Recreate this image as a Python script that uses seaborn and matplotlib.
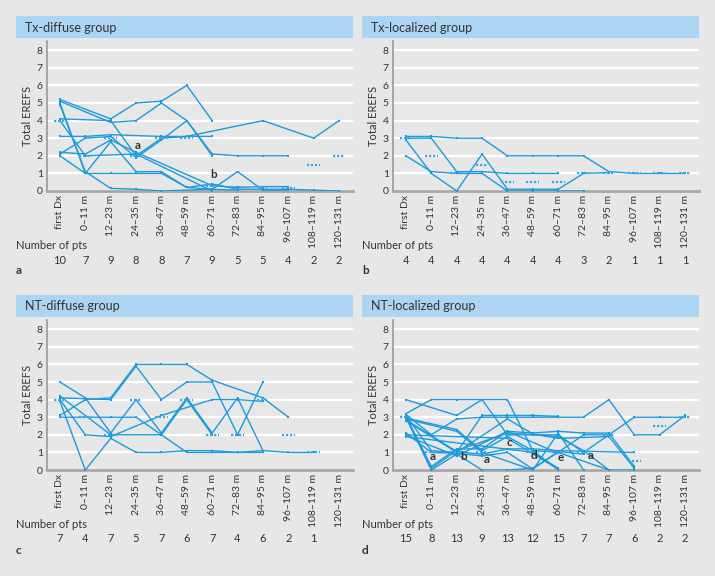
import numpy as np
import pandas as pd
import matplotlib
matplotlib.use("Agg")
import matplotlib.pyplot as plt
import matplotlib.transforms as mtransforms
from matplotlib.patches import Rectangle
import seaborn as sns

# time points (x axis)
periods = ["first Dx", "0–11 m", "12–23 m", "24–35 m", "36–47 m", "48–59 m",
           "60–71 m", "72–83 m", "84–95 m", "96–107 m", "108–119 m", "120–131 m"]
N = None

# a: Tx-diffuse group (one row per patient, small offsets so overlaps stay visible)
txd_patients = [
    [5.2, N, 4.1, 5.0, 5.1, 6.0, 4.0, N, N, N, N, N],
    [5.1, N, 3.9, 4.0, 5.0, 4.0, 2.1, 2.0, 2.0, 2.0, N, N],
    [5.0, 1.0, 1.0, N, 1.0, 0.2, 0.4, 0.1, 0.1, 0.1, 0.05, 0.0],
    [4.9, 1.1, 0.15, 0.1, 0.0, N, 0.1, 0.05, N, N, N, N],
    [4.1, N, 4.0, 2.0, 3.0, 3.1, 3.1, N, N, N, N, N],
    [4.0, 2.0, N, 2.1, N, N, 0.0, N, N, N, N, N],
    [3.1, 3.1, 3.2, N, 3.1, 3.1, N, N, 4.0, N, 3.0, 4.0],
    [2.2, 2.1, 2.9, 2.2, N, N, 0.3, 0.2, 0.25, 0.25, N, N],
    [2.1, 3.0, 3.1, 1.9, 2.9, 4.0, 2.0, N, N, N, N, N],
    [2.0, 1.0, 2.8, 1.1, 1.1, 0.2, 0.1, 1.1, 0.05, 0.05, N, N],
]
txd_medians = [4, 2, 3, 2, 3, 3, 0.3, 0.2, 0.2, 0.15, 1.5, 2]
txd_counts = [10, 7, 9, 8, 8, 7, 9, 5, 5, 4, 2, 2]

# b: Tx-localized group
txl_patients = [
    [3.1, 3.1, 3.0, 3.0, 2.0, 2.0, 2.0, 2.0, 1.1, 1.0, 1.0, 1.0],
    [3.0, 3.0, 1.1, 1.1, 1.0, 1.0, 1.0, N, N, N, N, N],
    [2.9, 1.0, 0.0, 2.1, 0.1, 0.1, 0.1, 1.0, 1.05, N, N, N],
    [2.0, 1.1, 1.0, 1.0, 0.0, 0.0, 0.0, 0.0, N, N, N, N],
]
txl_medians = [3, 2, 1, 1.5, 0.5, 0.5, 0.5, 1, 1.05, 1.05, 1, 1]
txl_counts = [4, 4, 4, 4, 4, 4, 4, 3, 2, 1, 1, 1]

# c: NT-diffuse group
ntd_patients = [
    [5.0, 4.1, 2.1, 4.0, 2.1, 4.1, 2.1, 4.1, 1.1, N, N, N],
    [4.2, N, 2.0, N, 2.0, 1.0, 1.0, N, 1.0, N, N, N],
    [4.0, 2.0, 1.9, N, 3.1, N, 4.0, 4.0, 3.9, N, N, N],
    [4.1, N, 4.0, 5.9, 4.0, 5.0, 5.0, 2.0, 5.0, N, N, N],
    [3.9, 0.0, 1.8, 1.0, 1.0, 1.1, 1.1, 1.0, 1.1, 1.0, 1.0, N],
    [3.0, N, 3.0, 3.0, 2.0, 4.0, 2.0, N, N, N, N, N],
    [3.1, 4.0, 4.1, 6.0, 6.0, 6.0, 5.1, N, 4.1, 3.0, N, N],
]
ntd_medians = [4, 3, 2, 4, 3, 4, 2, 2, 4, 2, 1, N]
ntd_counts = [7, 4, 7, 5, 7, 6, 7, 4, 6, 2, 1, N]

# d: NT-localized group
ntl_patients = [
    [4.0, N, 3.1, 4.0, 2.0, N, 2.0, 1.0, 2.0, N, N, N],
    [3.2, 4.0, 4.0, N, 4.0, 1.1, 1.0, N, 0.0, N, N, N],
    [3.15, 2.0, 2.9, 3.0, 3.0, 3.0, 3.0, 3.0, 4.0, 2.0, 2.0, 3.1],
    [3.1, 1.1, 1.0, 3.1, 3.1, 3.1, 3.05, N, N, N, N, N],
    [3.05, 0.2, 1.2, 1.2, 2.2, 2.1, 2.2, 2.1, 2.1, 0.2, N, N],
    [3.0, 0.1, 1.1, N, 2.1, 2.0, 1.9, 1.1, 0.0, 0.0, N, N],
    [3.0, 0.0, 0.9, 0.0, 0.0, 0.1, 1.0, 2.0, 2.0, 3.0, 3.0, 3.0],
    [2.95, N, 2.3, 1.1, 1.9, 1.1, 0.0, N, N, N, N, N],
    [2.9, N, 2.2, 1.0, N, 0.0, 2.1, 0.0, N, N, N, N],
    [2.85, 1.95, 1.05, 0.9, 1.2, 1.2, 1.1, N, N, 1.0, N, N],
    [2.8, N, 1.0, N, 2.9, 2.05, 1.8, N, 1.9, 0.1, N, N],
    [2.1, 1.0, 0.95, 0.8, 1.0, 0.05, 1.05, 0.9, N, N, N, N],
    [2.0, N, N, N, 1.8, N, 0.05, N, N, N, N, N],
    [1.95, N, 0.8, N, 2.2, N, 0.95, N, N, N, N, N],
    [1.9, N, N, N, N, 1.0, 0.1, N, N, N, N, N],
]
ntl_medians = [3, 1, 1, 1, 2, 1.05, 1.05, 1.05, 2, 0.5, 2.5, 3]
ntl_counts = [15, 8, 13, 9, 13, 12, 15, 7, 7, 6, 2, 2]

BG = "#e7e7e7"
HEAD = "#abd5f2"
BLUE = "#1c9ade"
TXT = "#333333"
W, H = 715, 576

plt.rcParams["font.family"] = ["Lato", "DejaVu Sans"]


def fx(x):
    return x / W


def fy(y):
    return 1 - y / H


def draw_panel(fig, left, top, patients, medians, counts, title, letter, notes):
    # left/top: pixel position of the panel header
    ax_l, ax_r = left + 31, left + 337
    ax_b, ax_t = top + 175, top + 25.4
    ax = fig.add_axes([fx(ax_l), fy(ax_b), fx(ax_r - ax_l), (ax_b - ax_t) / H])
    ax.set_facecolor(BG)

    rows = []
    for pid, vals in enumerate(patients):
        for t, v in enumerate(vals):
            if v is not None:
                rows.append({"pid": pid, "t": t, "v": v})
    df = pd.DataFrame(rows)
    sns.lineplot(data=df, x="t", y="v", units="pid", estimator=None, ax=ax,
                 color=BLUE, lw=1.0, marker="s", markersize=2.0,
                 markeredgewidth=0, zorder=3)

    for t, m in enumerate(medians):
        if m is not None:
            ax.plot([t - 0.25, t + 0.25], [m, m], ls=(0, (1, 0.8)), lw=1.6,
                    color="#3aa8e6", zorder=4)

    for (xt, yt, s) in notes:
        ax.text(xt, yt, s, fontsize=8.5, fontweight="bold", color=TXT,
                ha="center", va="center", zorder=5)

    ax.set_xlim(-0.51, 11.55)
    ax.set_ylim(0, 8.5)
    ax.set_yticks(range(0, 9))
    ax.yaxis.grid(True, color="white", lw=1.6)
    ax.set_axisbelow(True)
    ax.set_xticks(range(len(periods)))
    ax.set_xticklabels(periods, rotation=90, fontsize=7.5, color=TXT)
    ax.tick_params(axis="both", length=0, pad=3, labelsize=7.5, labelcolor=TXT)
    for s in ["top", "right"]:
        ax.spines[s].set_visible(False)
    ax.spines["left"].set_color("#9a9a9a")
    ax.spines["left"].set_linewidth(1.2)
    ax.spines["bottom"].set_color("#a8a8a8")
    ax.spines["bottom"].set_linewidth(2.0)
    ax.set_xlabel("")
    ax.set_ylabel("Total EREFS", fontsize=8, color=TXT, labelpad=3)

    # header bar
    fig.add_artist(Rectangle((fx(left), fy(top + 22)), fx(337), 22 / H,
                             transform=fig.transFigure, facecolor=HEAD,
                             edgecolor="none"))
    fig.text(fx(left + 9), fy(top + 11.5), title, fontsize=9, color=TXT,
             va="center", ha="left")

    # number of patients row
    fig.text(fx(left), fy(top + 230), "Number of pts", fontsize=8,
             color=TXT, va="center")
    trans = mtransforms.blended_transform_factory(ax.transData, fig.transFigure)
    for t, c in enumerate(counts):
        if c is not None:
            ax.text(t, fy(top + 244), str(c), transform=trans, fontsize=8,
                    color=TXT, ha="center", va="center")
    fig.text(fx(left), fy(top + 255), letter, fontsize=8.5, fontweight="bold",
             color=TXT, va="center")
    return ax


fig = plt.figure(figsize=(W / 100, H / 100), dpi=100, facecolor=BG)

draw_panel(fig, 16, 16, txd_patients, txd_medians, txd_counts,
           "Tx-diffuse group", "a", [(3.08, 2.6, "a"), (6.04, 0.95, "b")])
draw_panel(fig, 362, 16, txl_patients, txl_medians, txl_counts,
           "Tx-localized group", "b", [])
draw_panel(fig, 16, 295, ntd_patients, ntd_medians, ntd_counts,
           "NT-diffuse group", "c", [])
draw_panel(fig, 362, 295, ntl_patients, ntl_medians, ntl_counts,
           "NT-localized group", "d",
           [(1.05, 0.75, "a"), (2.27, 0.75, "b"), (3.17, 0.62, "a"),
            (4.09, 1.55, "c"), (5.06, 0.8, "d"), (6.12, 0.7, "e"),
            (7.28, 0.8, "a")])

fig.savefig("out.png", dpi=100, facecolor=BG)
